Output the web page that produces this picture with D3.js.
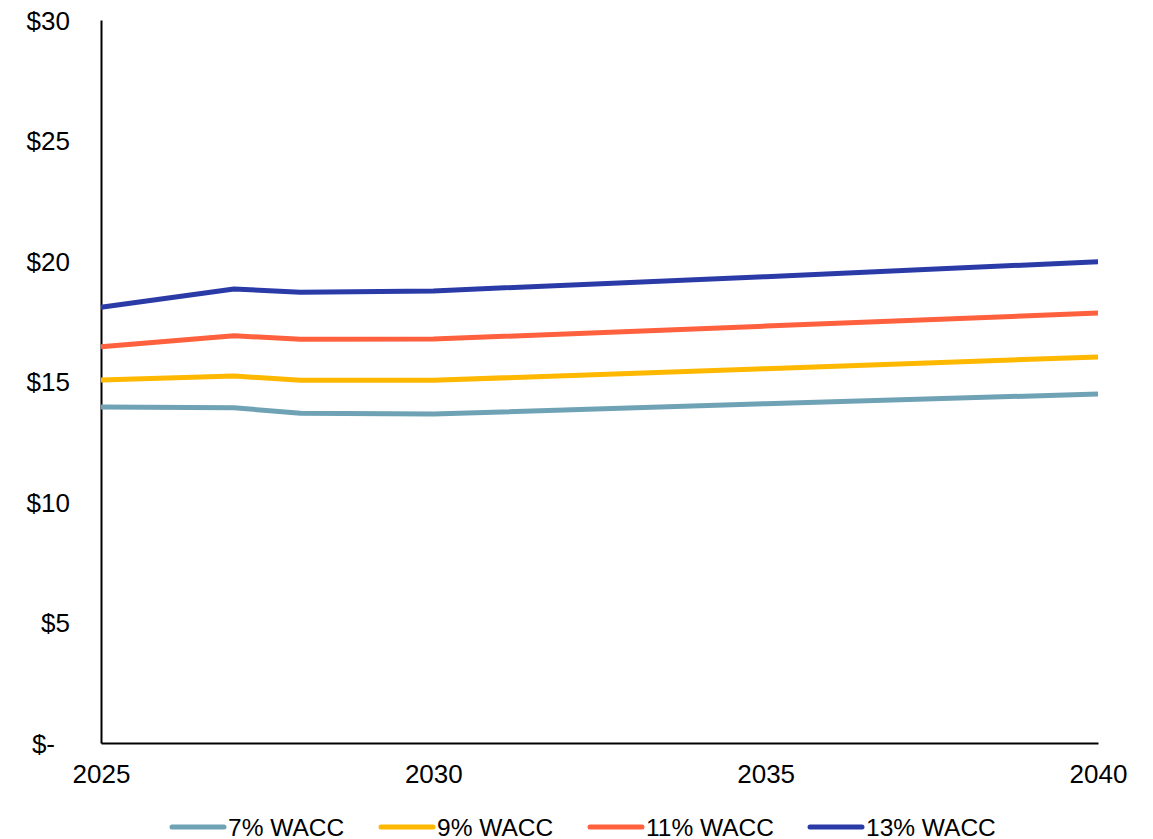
<!DOCTYPE html>
<html>
<head>
<meta charset="utf-8">
<script src="https://cdn.jsdelivr.net/npm/d3@7/dist/d3.min.js"></script>
<style>
  html, body { margin: 0; padding: 0; background: #fff; }
  svg { display: block; }
  text { font-family: "Liberation Sans", Arial, sans-serif; fill: #000; }
</style>
</head>
<body>
<svg id="chart" width="1153" height="839"></svg>
<script>
// Cost by year under four WACC assumptions ($)
const years = [2025, 2027, 2028, 2030, 2035, 2040];
const wacc7  = [13.94, 13.91, 13.68, 13.65, 14.08, 14.48];
const wacc9  = [15.06, 15.23, 15.05, 15.05, 15.53, 16.02];
const wacc11 = [16.44, 16.90, 16.75, 16.76, 17.30, 17.84];
const wacc13 = [18.08, 18.84, 18.70, 18.76, 19.35, 19.97];
const seriesNames = ["7% WACC", "9% WACC", "11% WACC", "13% WACC"];
const seriesColors = ["#6FA2B5", "#FFB800", "#FF603D", "#2A3BA7"];
const xTicks = [2025, 2030, 2035, 2040];
const yTicks = [0, 5, 10, 15, 20, 25, 30];

const seriesValues = [wacc7, wacc9, wacc11, wacc13];
const series = seriesNames.map((name, i) => ({
  name,
  color: seriesColors[i],
  points: years.map((yr, j) => ({ year: yr, value: seriesValues[i][j] }))
}));

const svg = d3.select("#chart");
const plot = { left: 101, right: 1098, top: 20, bottom: 743 };

const x = d3.scaleLinear().domain([2025, 2040]).range([plot.left, plot.right]);
const y = d3.scaleLinear().domain([0, 30]).range([plot.bottom, plot.top]);

// Y axis
const yAxis = svg.append("g")
  .attr("transform", `translate(${plot.left},0)`)
  .call(d3.axisLeft(y).tickValues(yTicks).tickSize(0).tickPadding(31)
    .tickFormat(d => d === 0 ? "$-" : "$" + d));
yAxis.select(".domain").attr("stroke", "#000").attr("stroke-width", 2);
yAxis.selectAll("text")
  .attr("font-size", 26)
  .attr("dy", "0.35em")
  .attr("dx", d => d === 0 ? -15 : 0);

// X axis
const xAxis = svg.append("g")
  .attr("transform", `translate(0,${plot.bottom})`)
  .call(d3.axisBottom(x).tickValues(xTicks).tickSize(0).tickPadding(22)
    .tickFormat(d3.format("d")));
xAxis.select(".domain").attr("stroke", "#000").attr("stroke-width", 2);
xAxis.selectAll("text").attr("font-size", 26);

// Lines
const line = d3.line().x(d => x(d.year)).y(d => y(d.value));
svg.append("g").selectAll("path")
  .data(series)
  .join("path")
  .attr("d", d => line(d.points))
  .attr("fill", "none")
  .attr("stroke", d => d.color)
  .attr("stroke-width", 5)
  .attr("stroke-linejoin", "round");

// Legend
const legendX = [170, 379, 588, 808];
const legend = svg.append("g").attr("transform", "translate(0,827)");
const item = legend.selectAll("g")
  .data(series)
  .join("g")
  .attr("transform", (d, i) => `translate(${legendX[i]},0)`);
item.append("line")
  .attr("x1", 2).attr("x2", 54)
  .attr("stroke", d => d.color)
  .attr("stroke-width", 5)
  .attr("stroke-linecap", "round");
item.append("text")
  .attr("x", 58)
  .attr("dy", "0.35em")
  .attr("font-size", 24.5)
  .text(d => d.name);
</script>
</body>
</html>
